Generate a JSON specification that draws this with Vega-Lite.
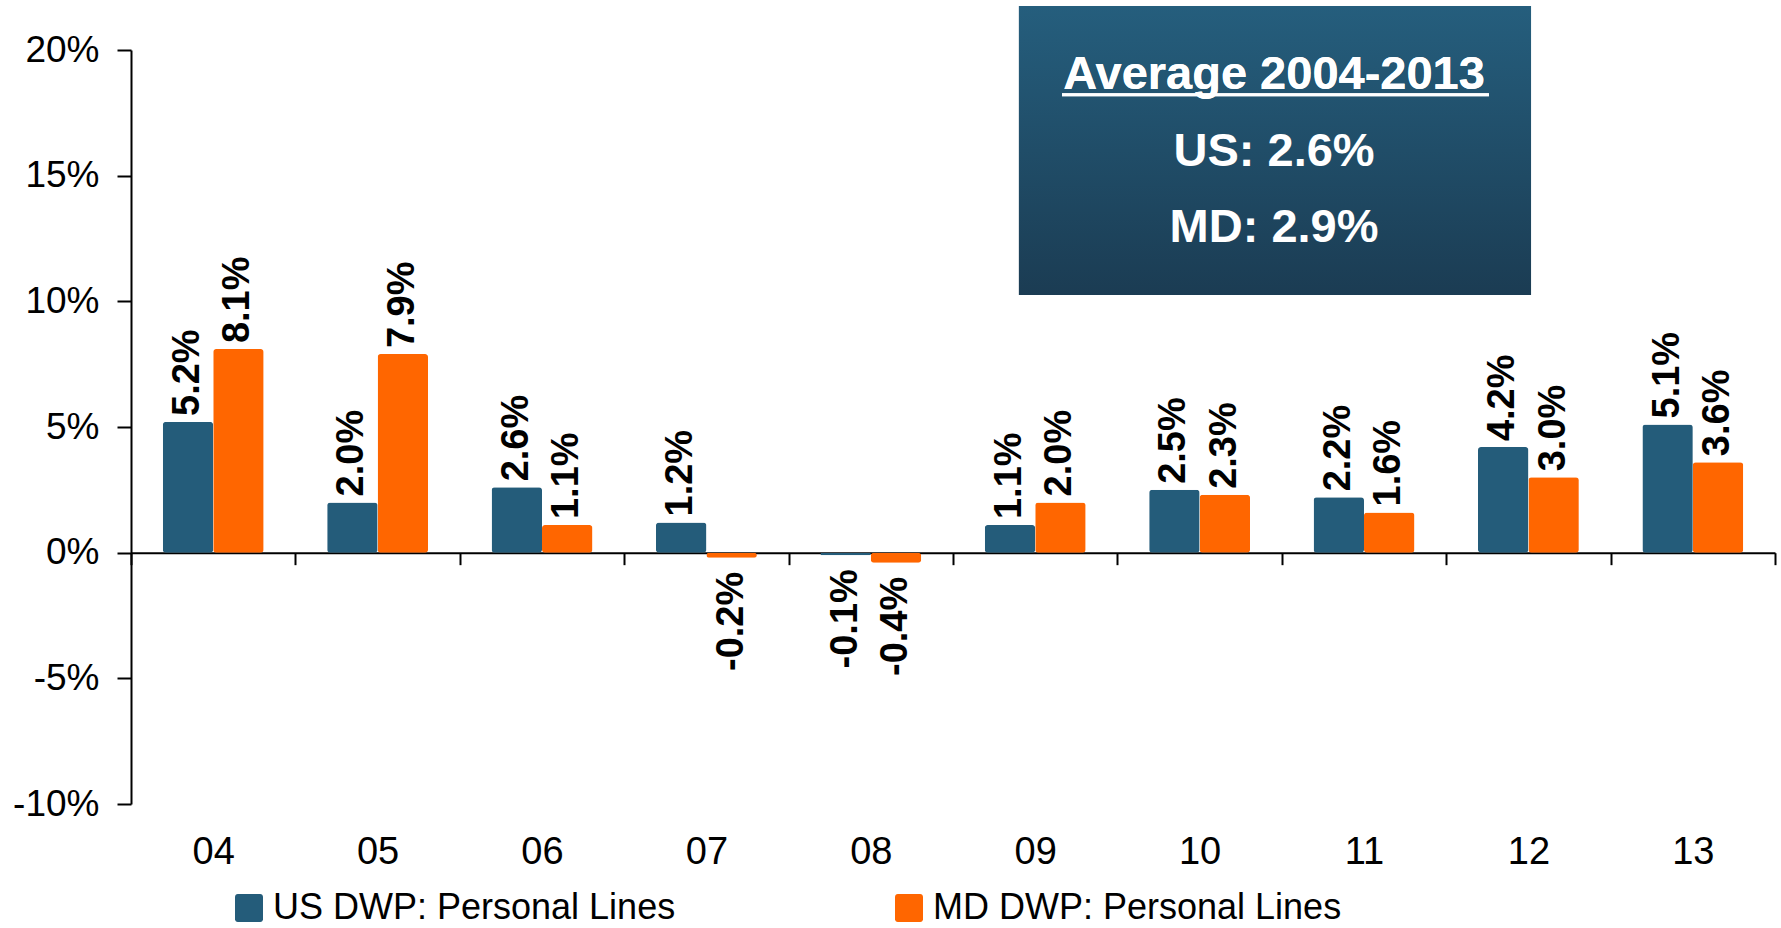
{
  "$schema": "https://vega.github.io/schema/vega-lite/v6.json",
  "width": 1644,
  "height": 754,
  "autosize": {"type": "none"},
  "padding": {"left": 131, "top": 50, "right": 6, "bottom": 124},
  "background": "white",
  "config": {
    "font": "Liberation Sans",
    "view": {"stroke": null},
    "locale": {
      "number": {"decimal": ".", "thousands": ",", "grouping": [3], "currency": ["$", ""], "minus": "-"}
    }
  },
  "datasets": {
    "growth": [
      {"year": "04", "series": "US DWP: Personal Lines", "value": 0.052},
      {"year": "04", "series": "MD DWP: Personal Lines", "value": 0.081},
      {"year": "05", "series": "US DWP: Personal Lines", "value": 0.020},
      {"year": "05", "series": "MD DWP: Personal Lines", "value": 0.079},
      {"year": "06", "series": "US DWP: Personal Lines", "value": 0.026},
      {"year": "06", "series": "MD DWP: Personal Lines", "value": 0.011},
      {"year": "07", "series": "US DWP: Personal Lines", "value": 0.012},
      {"year": "07", "series": "MD DWP: Personal Lines", "value": -0.002},
      {"year": "08", "series": "US DWP: Personal Lines", "value": -0.001},
      {"year": "08", "series": "MD DWP: Personal Lines", "value": -0.004},
      {"year": "09", "series": "US DWP: Personal Lines", "value": 0.011},
      {"year": "09", "series": "MD DWP: Personal Lines", "value": 0.020},
      {"year": "10", "series": "US DWP: Personal Lines", "value": 0.025},
      {"year": "10", "series": "MD DWP: Personal Lines", "value": 0.023},
      {"year": "11", "series": "US DWP: Personal Lines", "value": 0.022},
      {"year": "11", "series": "MD DWP: Personal Lines", "value": 0.016},
      {"year": "12", "series": "US DWP: Personal Lines", "value": 0.042},
      {"year": "12", "series": "MD DWP: Personal Lines", "value": 0.030},
      {"year": "13", "series": "US DWP: Personal Lines", "value": 0.051},
      {"year": "13", "series": "MD DWP: Personal Lines", "value": 0.036}
    ],
    "average": [
      {"region": "US", "avg": 0.026},
      {"region": "MD", "avg": 0.029}
    ]
  },
  "resolve": {"scale": {"x": "independent"}, "axis": {"x": "independent"}},
  "layer": [
    {
      "data": {"name": "growth"},
      "encoding": {
        "x": {
          "field": "year",
          "type": "nominal",
          "sort": null,
          "scale": {"paddingInner": 0, "paddingOuter": 0},
          "axis": {
            "title": null,
            "orient": "bottom",
            "offset": -251.33,
            "tickBand": "extent",
            "labelAngle": 0,
            "domainColor": "black",
            "domainWidth": 2,
            "tickColor": "black",
            "tickWidth": 2,
            "tickSize": 12,
            "labelFont": "Liberation Sans",
            "labelFontSize": 38,
            "labelColor": "black",
            "labelPadding": 269
          }
        },
        "xOffset": {
          "field": "series",
          "sort": ["US DWP: Personal Lines", "MD DWP: Personal Lines"],
          "scale": {"paddingInner": 0, "paddingOuter": 0.63}
        },
        "y": {
          "field": "value",
          "type": "quantitative",
          "scale": {"domain": [-0.1, 0.2], "nice": false, "zero": true},
          "axis": {
            "title": null,
            "values": [-0.1, -0.05, 0, 0.05, 0.1, 0.15, 0.2],
            "format": ".0%",
            "grid": false,
            "domainColor": "black",
            "domainWidth": 2,
            "tickColor": "black",
            "tickWidth": 2,
            "tickSize": 14,
            "labelFont": "Liberation Sans",
            "labelFontSize": 37,
            "labelColor": "black",
            "labelPadding": 18
          }
        }
      },
      "layer": [
        {
          "mark": {"type": "bar", "cornerRadius": 3},
          "encoding": {
            "color": {
              "field": "series",
              "type": "nominal",
              "scale": {
                "domain": ["US DWP: Personal Lines", "MD DWP: Personal Lines"],
                "range": ["#245c7a", "#ff6600"]
              },
              "legend": {
                "title": null,
                "orient": "none",
                "direction": "horizontal",
                "legendX": 100,
                "legendY": 840,
                "padding": 0,
                "symbolType": "M-0.8,-1H0.8A0.2,0.2 0 0 1 1,-0.8V0.8A0.2,0.2 0 0 1 0.8,1H-0.8A0.2,0.2 0 0 1 -1,0.8V-0.8A0.2,0.2 0 0 1 -0.8,-1Z",
                "symbolSize": 784,
                "symbolStrokeWidth": 0,
                "symbolOpacity": 1,
                "labelFont": "Liberation Sans",
                "labelFontSize": 36,
                "labelColor": "black",
                "labelOffset": 6,
                "labelLimit": 600,
                "columnPadding": 215
              }
            }
          }
        },
        {
          "transform": [{"filter": "datum.value >= 0"}],
          "mark": {
            "type": "text",
            "angle": 270,
            "align": "left",
            "baseline": "middle",
            "dx": 6,
            "font": "Liberation Sans",
            "fontWeight": "bold",
            "fontSize": 38,
            "color": "black"
          },
          "encoding": {"text": {"field": "value", "format": ".1%"}}
        },
        {
          "transform": [{"filter": "datum.value < 0"}],
          "mark": {
            "type": "text",
            "angle": 270,
            "align": "right",
            "baseline": "middle",
            "dx": -14,
            "font": "Liberation Sans",
            "fontWeight": "bold",
            "fontSize": 38,
            "color": "black"
          },
          "encoding": {"text": {"field": "value", "format": ".1%"}}
        }
      ]
    },
    {
      "data": {"name": "average"},
      "layer": [
        {
          "mark": {
            "type": "rect",
            "fill": {
              "gradient": "linear",
              "x1": 0, "y1": 0, "x2": 0, "y2": 1,
              "stops": [
                {"offset": 0, "color": "#255e7d"},
                {"offset": 1, "color": "#1b3c53"}
              ]
            }
          },
          "encoding": {
            "x": {"datum": 5.401, "type": "quantitative", "scale": {"domain": [0, 10], "nice": false, "zero": false}, "axis": null},
            "x2": {"datum": 8.516},
            "y": {"datum": 0.2175, "type": "quantitative"},
            "y2": {"datum": 0.1025}
          }
        },
        {
          "mark": {
            "type": "text",
            "text": "Average 2004-2013",
            "align": "center",
            "baseline": "alphabetic",
            "font": "Liberation Sans",
            "fontWeight": "bold",
            "fontSize": 47,
            "color": "white"
          },
          "encoding": {
            "x": {"datum": 6.953, "type": "quantitative"},
            "y": {"datum": 0.1845, "type": "quantitative"}
          }
        },
        {
          "mark": {"type": "rule", "color": "white", "strokeWidth": 3},
          "encoding": {
            "x": {"datum": 5.663, "type": "quantitative"},
            "x2": {"datum": 8.26},
            "y": {"datum": 0.1822, "type": "quantitative"}
          }
        },
        {
          "transform": [
            {"filter": "datum.region === 'US'"},
            {"calculate": "datum.region + ': ' + format(datum.avg, '.1%')", "as": "label"}
          ],
          "mark": {
            "type": "text",
            "align": "center",
            "baseline": "alphabetic",
            "font": "Liberation Sans",
            "fontWeight": "bold",
            "fontSize": 47,
            "color": "white"
          },
          "encoding": {
            "x": {"datum": 6.953, "type": "quantitative"},
            "y": {"datum": 0.1538, "type": "quantitative"},
            "text": {"field": "label"}
          }
        },
        {
          "transform": [
            {"filter": "datum.region === 'MD'"},
            {"calculate": "datum.region + ': ' + format(datum.avg, '.1%')", "as": "label"}
          ],
          "mark": {
            "type": "text",
            "align": "center",
            "baseline": "alphabetic",
            "font": "Liberation Sans",
            "fontWeight": "bold",
            "fontSize": 47,
            "color": "white"
          },
          "encoding": {
            "x": {"datum": 6.953, "type": "quantitative"},
            "y": {"datum": 0.1236, "type": "quantitative"},
            "text": {"field": "label"}
          }
        }
      ]
    }
  ]
}
